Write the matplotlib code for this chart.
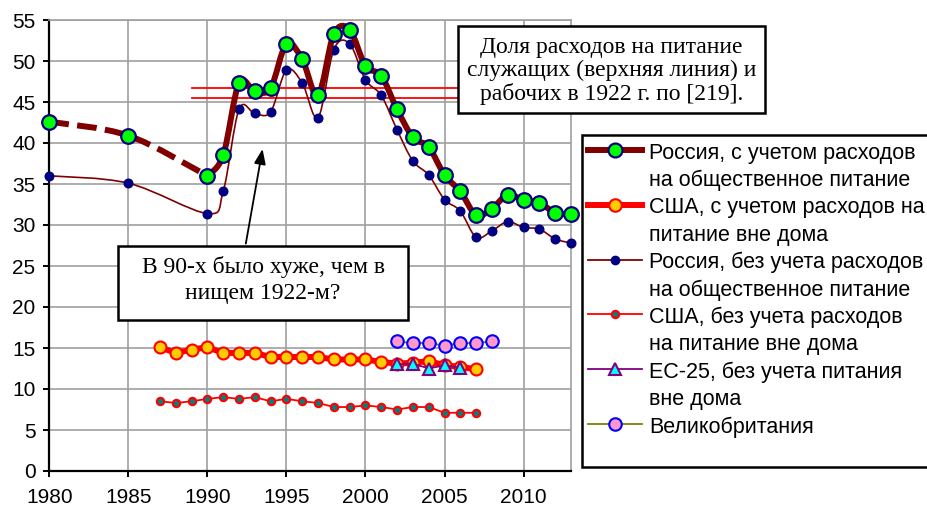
import numpy as np
import matplotlib
matplotlib.use('Agg')
import matplotlib.pyplot as plt
from matplotlib.path import Path
from matplotlib.patches import PathPatch, Rectangle
from matplotlib.lines import Line2D

plt.rcParams['font.family'] = ['Liberation Sans', 'DejaVu Sans']

# Россия, с учетом расходов на общественное питание
ru_full_years = [1980, 1985, 1990, 1991, 1992, 1993, 1994, 1995, 1996, 1997, 1998, 1999, 2000,
                 2001, 2002, 2003, 2004, 2005, 2006, 2007, 2008, 2009, 2010, 2011, 2012, 2013]
ru_full = [42.6, 40.9, 36.0, 38.5, 47.3, 46.3, 46.7, 52.1, 50.2, 45.8, 53.3, 53.8, 49.4,
           48.2, 44.1, 40.7, 39.5, 36.1, 34.1, 31.2, 32.0, 33.7, 33.0, 32.7, 31.5, 31.3]
# Россия, без учета расходов на общественное питание
ru_home = [36.0, 35.1, 31.4, 34.1, 44.1, 43.6, 43.8, 48.9, 47.3, 43.1, 51.4, 52.1, 47.7,
           45.8, 41.6, 37.8, 36.1, 33.1, 31.7, 28.5, 29.3, 30.4, 29.7, 29.5, 28.3, 27.8]

us_years = list(range(1987, 2008))
us_full = [15.1, 14.4, 14.8, 15.1, 14.4, 14.4, 14.4, 13.9, 13.9, 13.9, 13.9, 13.6, 13.6, 13.6,
           13.3, 13.1, 13.2, 13.4, 12.9, 12.7, 12.4]
us_home = [8.5, 8.3, 8.5, 8.8, 9.0, 8.8, 9.0, 8.5, 8.8, 8.5, 8.3, 7.8, 7.8, 8.0,
           7.8, 7.5, 7.8, 7.8, 7.1, 7.1, 7.1]

eu_years = [2002, 2003, 2004, 2005, 2006]
eu_home = [13.0, 13.1, 12.5, 12.9, 12.6]

uk_years = [2002, 2003, 2004, 2005, 2006, 2007, 2008]
uk = [15.8, 15.6, 15.6, 15.3, 15.6, 15.6, 15.8]

# 1922 г.: служащие и рабочие
ref_years = [1989, 2013]
ref_employees = 46.7
ref_workers = 45.5

labels = ['Россия, с учетом расходов\nна общественное питание',
          'США, с учетом расходов на\nпитание вне дома',
          'Россия, без учета расходов\nна общественное питание',
          'США, без учета расходов\nна питание вне дома',
          'ЕС-25, без учета питания\nвне дома',
          'Великобритания']

W, H = 927, 507


def smooth_path(xs, ys):
    xs = np.asarray(xs, float)
    ys = np.asarray(ys, float)
    px = np.r_[xs[0], xs, xs[-1]]
    py = np.r_[ys[0], ys, ys[-1]]
    verts = [(xs[0], ys[0])]
    codes = [Path.MOVETO]
    for i in range(len(xs) - 1):
        c1 = (px[i + 1] + (px[i + 2] - px[i]) / 6, py[i + 1] + (py[i + 2] - py[i]) / 6)
        c2 = (px[i + 2] - (px[i + 3] - px[i + 1]) / 6, py[i + 2] - (py[i + 3] - py[i + 1]) / 6)
        verts += [c1, c2, (xs[i + 1], ys[i + 1])]
        codes += [Path.CURVE4] * 3
    return Path(verts, codes)


def fx(px):
    return px / W


def fy(py):
    return 1 - py / H


fig = plt.figure(figsize=(W / 100, H / 100), dpi=100)
ax = fig.add_axes([fx(49.3), fy(471), fx(571) - fx(49.3), fy(20) - fy(471)])
ax.set_xlim(1980, 2013)
ax.set_ylim(0, 55)
ax.set_xticks(range(1980, 2014, 5))
ax.set_yticks(range(0, 56, 5))
ax.grid(True, color='#a0a0a0', lw=1.2)
ax.set_axisbelow(True)
for s in ['top', 'right']:
    ax.spines[s].set_color('#a0a0a0')
    ax.spines[s].set_linewidth(1.2)
for s in ['left', 'bottom']:
    ax.spines[s].set_linewidth(1.6)
ax.tick_params(direction='out', length=4, width=1.4, labelsize=15)
ax.tick_params(axis='x', pad=8)
ax.tick_params(axis='y', pad=6)

# линии 1922 г.
ax.plot(ref_years, [ref_employees] * 2, color='red', lw=1.3, zorder=2)
ax.plot(ref_years, [ref_workers] * 2, color='red', lw=1.3, zorder=2)

dark = '#800000'
# Россия без учета
ax.add_patch(PathPatch(smooth_path(ru_full_years, ru_home), fc='none', ec=dark, lw=1.2, zorder=3))
ax.plot(ru_full_years, ru_home, 'o', ms=6.2, mfc='#000080', mec='#000080', zorder=4, clip_on=False)
# Россия с учетом
ax.add_patch(PathPatch(smooth_path(ru_full_years[:3], ru_full[:3]), fc='none', ec=dark, lw=4.3,
                       linestyle=(0, (3.3, 1.4)), zorder=5))
ax.add_patch(PathPatch(smooth_path(ru_full_years[2:], ru_full[2:]), fc='none', ec=dark, lw=4.3,
                       capstyle='round', joinstyle='round', zorder=5))
ax.plot(ru_full_years, ru_full, 'o', ms=10.5, mfc='#00ff00', mec='#000080', mew=1.6, zorder=6,
        clip_on=False)

# США
ax.plot(us_years, us_full, '-o', color='red', lw=4.3, ms=8.6, mfc='#ffcc00', mec='red', mew=1.5,
        zorder=5)
ax.plot(us_years, us_home, '-o', color='red', lw=1.3, ms=5.3, mfc='#008080', mec='red', mew=1.5,
        zorder=5)
# Великобритания, ЕС-25
ax.plot(uk_years, uk, '-o', color='#808000', lw=1.3, ms=9, mfc='#ff99cc', mec='#0000ff', mew=1.5,
        zorder=6)
ax.plot(eu_years, eu_home, '-^', color='#800080', lw=1.3, ms=9, mfc='#00ffff', mec='#800080', mew=1.5,
        zorder=7)

# стрелка
ax.annotate('', xy=(1993.52, 39.6), xytext=(1992.4, 27.4),
            arrowprops=dict(arrowstyle='-|>,head_length=0.9,head_width=0.35', color='black', lw=1.3),
            zorder=8)

# текстовые блоки
fig.add_artist(Rectangle((fx(458), fy(113)), fx(765) - fx(458), fy(26) - fy(113),
                         transform=fig.transFigure, fc='white', ec='black', lw=1.8, zorder=10))
fig.text(fx(611.5), fy(71), 'Доля расходов на питание\nслужащих (верхняя линия) и\nрабочих в 1922 г. по [219].',
         ha='center', va='center', family='Liberation Serif', fontsize=17, linespacing=1.13, zorder=11)
fig.add_artist(Rectangle((fx(118), fy(320)), fx(408) - fx(118), fy(246) - fy(320),
                         transform=fig.transFigure, fc='white', ec='black', lw=1.8, zorder=10))
fig.text(fx(263), fy(280), 'В 90-х было хуже, чем в\nнищем 1922-м?',
         ha='center', va='center', family='Liberation Serif', fontsize=17, linespacing=1.25, zorder=11)

# легенда
fig.add_artist(Rectangle((fx(582), fy(467)), fx(935) - fx(582), fy(135) - fy(467),
                         transform=fig.transFigure, fc='white', ec='black', lw=1.8, zorder=10))
styles = [dict(color=dark, lw=4.3, marker='o', ms=10, mfc='#00ff00', mec='#000080', mew=1.6),
          dict(color='red', lw=4.3, marker='o', ms=9, mfc='#ffcc00', mec='red', mew=1.5),
          dict(color=dark, lw=1.3, marker='o', ms=6, mfc='#000080', mec='#000080'),
          dict(color='red', lw=1.3, marker='o', ms=5.3, mfc='#008080', mec='red', mew=1.5),
          dict(color='#800080', lw=1.3, marker='^', ms=9, mfc='#00ffff', mec='#800080', mew=1.5),
          dict(color='#808000', lw=1.3, marker='o', ms=9, mfc='#ff99cc', mec='#0000ff', mew=1.5)]
line_y = 153
step = 27.4
for lab, st in zip(labels, styles):
    hy = line_y - 3
    fig.add_artist(Line2D([fx(588), fx(642)], [fy(hy), fy(hy)], transform=fig.transFigure,
                          color=st['color'], lw=st['lw'], zorder=11))
    fig.add_artist(Line2D([fx(615)], [fy(hy)], transform=fig.transFigure, ls='none', zorder=12,
                          marker=st['marker'], ms=st['ms'], mfc=st['mfc'], mec=st['mec'],
                          mew=st.get('mew', 1)))
    for k, ln in enumerate(lab.split('\n')):
        fig.text(fx(649), fy(line_y + k * step), ln, ha='left', va='center', fontsize=15.5, zorder=11)
    line_y += step * len(lab.split('\n'))

fig.savefig('out.png', dpi=100)
